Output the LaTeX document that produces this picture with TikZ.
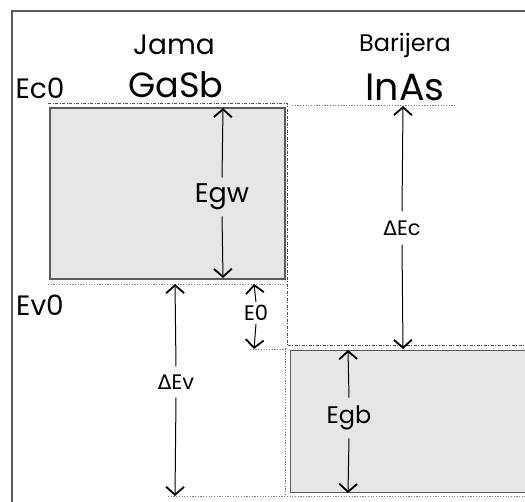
\documentclass[tikz,border=0pt]{standalone}
\usepackage{fontspec}
\setmainfont{Poppins}
\newfontfamily\dvfont{DejaVu Sans}
\usetikzlibrary{arrows.meta}
\definecolor{boxfill}{HTML}{E6E6E6}
\definecolor{boxedge}{HTML}{5A5A5A}
\tikzset{
  band/.style={draw=boxedge,line width=1.8pt,fill=boxfill},
  frame/.style={draw=boxedge,line width=1.8pt},
  dd/.style={draw=black!70,line width=0.9pt,dash pattern=on 3pt off 1.5pt on 1pt off 1.5pt},
  dt/.style={draw=black!50,line width=0.9pt,dash pattern=on 1.2pt off 1.5pt},
  dim/.style={draw=black,line width=1pt,-{Straight Barb[length=8pt,width=18pt,line width=1.8pt]}},
  lbl/.style={inner sep=2pt,font=\fontsize{21}{24}\selectfont},
  big/.style={inner sep=0pt,font=\fontsize{35}{38}\selectfont},
}
\begin{document}
\begin{tikzpicture}[x=1pt,y=-1pt]
\useasboundingbox (0,0) rectangle (525,502);
\fill[white] (0,0) rectangle (525,502);
% frame
\draw[frame] (540,11) -- (12,11) -- (12,520);
% well band
\draw[band] (50,108) rectangle (285,279);
\draw[dd] (48,103.5) -- (287.5,103.5) -- (287.5,347);
\draw[dt] (48,284) -- (286,284);
\draw[dt] (292,105.5) -- (455,105.5);
% barrier band
\draw[band] (290.5,350.5) rectangle (540,492.5);
\draw[dd] (287.5,345.5) -- (530,345.5);
\draw[dt] (285,348) -- (285,496.5);
\draw[dt] (250,349) -- (287,349);
\draw[dt] (168,496.5) -- (530,496.5);
% texts
\node[lbl,font=\fontsize{28}{30}\selectfont] (jama) at (174,45) {Jama};
\node[big] (gasb) at (176,85) {GaSb};
\node[lbl,font=\fontsize{24}{30}\selectfont] (bar) at (405,45) {Barijera};
\node[big,font=\fontsize{38}{40}\selectfont] (inas) at (405,87) {InAs};
\node[lbl,font=\fontsize{28}{30}\selectfont] (ec0) at (40,88) {Ec0};
\node[lbl,font=\fontsize{28}{30}\selectfont] (ev0) at (40,305) {Ev0};
% dimension anchors
\coordinate (egwT) at (223,108);
\coordinate (egwB) at (223,278);
\coordinate (decT) at (403,106);
\coordinate (decB) at (403,349);
\coordinate (e0T) at (254,284);
\coordinate (e0B) at (254,349);
\coordinate (devT) at (175,284);
\coordinate (devB) at (175,496);
\coordinate (egbT) at (348,350);
\coordinate (egbB) at (348,493);
\node[lbl,font=\fontsize{27}{29}\selectfont,inner sep=6pt] (egw) at (222,197) {Egw};
\node[lbl,inner sep=9pt] (dec) at (402,228) {{\dvfont\fontsize{20}{22}\selectfont Δ}Ec};
\node[lbl,inner sep=3pt] (e0) at (256,313) {E0};
\node[lbl,inner sep=8pt] (dev) at (176,382) {{\dvfont\fontsize{20}{22}\selectfont Δ}Ev};
\node[lbl,font=\fontsize{24}{26}\selectfont,inner sep=8pt] (egb) at (349,418) {Egb};
\draw[dim] (egw.north) -- (egwT);
\draw[dim] (egw.south) -- (egwB);
\draw[dim] (dec.north) -- (decT);
\draw[dim] (dec.south) -- (decB);
\draw[dim] (e0.north) -- (e0T);
\draw[dim] (e0.south) -- (e0B);
\draw[dim] (dev.north) -- (devT);
\draw[dim] (dev.south) -- (devB);
\draw[dim] (egb.north) -- (egbT);
\draw[dim] (egb.south) -- (egbB);
\end{tikzpicture}
\end{document}
